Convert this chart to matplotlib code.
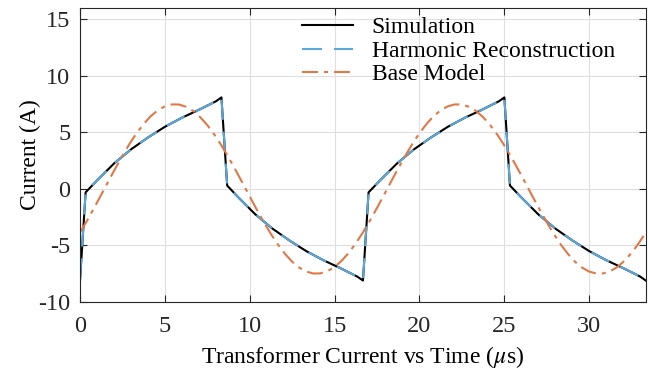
import matplotlib
matplotlib.use("Agg")
import matplotlib.pyplot as plt
import numpy as np

# Simulation (us, A)
sim_t = [0.0, 0.33, 1.0, 1.5, 2.0, 3.0, 4.0, 5.0, 6.0, 7.0, 8.0, 8.33,
         8.67, 9.33, 9.83, 10.33, 11.33, 12.33, 13.33, 14.33, 15.33, 16.33, 16.67,
         17.0, 17.67, 18.17, 18.67, 19.67, 20.67, 21.67, 22.67, 23.67, 24.67, 25.0,
         25.33, 26.0, 26.5, 27.0, 28.0, 29.0, 30.0, 31.0, 32.0, 33.0, 33.33]
sim_i = [-8.1, -0.3, 0.75, 1.5, 2.25, 3.5, 4.55, 5.5, 6.3, 7.0, 7.75, 8.1,
         0.3, -0.75, -1.5, -2.25, -3.5, -4.55, -5.5, -6.3, -7.0, -7.75, -8.1,
         -0.3, 0.75, 1.5, 2.25, 3.5, 4.55, 5.5, 6.3, 7.0, 7.75, 8.1,
         0.3, -0.75, -1.5, -2.25, -3.5, -4.55, -5.5, -6.3, -7.0, -7.75, -8.1]

# Harmonic reconstruction (follows the simulation closely)
harm_t = [0.0, 0.33, 1.0, 1.5, 2.0, 3.0, 4.0, 5.0, 6.0, 7.0, 8.0, 8.33,
          8.67, 9.33, 9.83, 10.33, 11.33, 12.33, 13.33, 14.33, 15.33, 16.33, 16.67,
          17.0, 17.67, 18.17, 18.67, 19.67, 20.67, 21.67, 22.67, 23.67, 24.67, 25.0,
          25.33, 26.0, 26.5, 27.0, 28.0, 29.0, 30.0, 31.0, 32.0, 33.0, 33.33]
harm_i = [-7.9, -0.3, 0.75, 1.5, 2.25, 3.5, 4.55, 5.5, 6.3, 7.0, 7.75, 8.1,
          0.3, -0.75, -1.5, -2.25, -3.5, -4.55, -5.5, -6.3, -7.0, -7.75, -8.1,
          -0.3, 0.75, 1.5, 2.25, 3.5, 4.55, 5.5, 6.3, 7.0, 7.75, 8.1,
          0.3, -0.75, -1.5, -2.25, -3.5, -4.55, -5.5, -6.3, -7.0, -7.75, -8.1]

# Base model, sampled evenly over 0..33.33 us
base_i = [-3.85, -2.80, -1.67, -0.51, 0.67, 1.83, 2.94, 3.99, 4.93, 5.75,
          6.44, 6.96, 7.31, 7.48, 7.47, 7.27, 6.90, 6.35, 5.65, 4.81,
          3.85, 2.80, 1.67, 0.51, -0.67, -1.83, -2.94, -3.99, -4.93, -5.75,
          -6.44, -6.96, -7.31, -7.48, -7.47, -7.27, -6.90, -6.35, -5.65, -4.81,
          -3.85, -2.80, -1.67, -0.51, 0.67, 1.83, 2.94, 3.99, 4.93, 5.75,
          6.44, 6.96, 7.31, 7.48, 7.47, 7.27, 6.90, 6.35, 5.65, 4.81,
          3.85, 2.80, 1.67, 0.51, -0.67, -1.83, -2.94, -3.99, -4.93, -5.75,
          -6.44, -6.96, -7.31, -7.48, -7.47, -7.27, -6.90, -6.35, -5.65, -4.81,
          -3.85]
base_t = np.linspace(0, 33.33, len(base_i))

plt.rcParams['font.family'] = ['Liberation Serif', 'DejaVu Serif']
plt.rcParams['mathtext.fontset'] = 'stix'
plt.rcParams['lines.scale_dashes'] = False
plt.rcParams['axes.unicode_minus'] = False

fig = plt.figure(figsize=(6.49, 3.69), dpi=100)
ax = fig.add_axes([0.1233, 0.1816, 0.8717, 0.7964])

ax.plot(sim_t, sim_i, color='black', lw=1.5, label='Simulation')
ax.plot(harm_t, harm_i, color='#5ba8db', lw=1.5, dashes=(14.4, 8.6),
        label='Harmonic Reconstruction')
ax.plot(base_t, base_i, color='#e07848', lw=1.5, dashes=(11.5, 4.3, 2.9, 4.3),
        label='Base Model')

ax.set_xlim(0, 33.33)
ax.set_ylim(-10, 16)
ax.set_xticks([0, 5, 10, 15, 20, 25, 30])
ax.set_yticks([-10, -5, 0, 5, 10, 15])
ax.grid(True, color='#dfdfdf', lw=0.8)
ax.set_axisbelow(True)
ax.tick_params(direction='in', top=True, right=True, length=5, width=0.8,
               labelsize=17.5, colors='#262626', pad=7)
ax.tick_params(axis='x', pad=10)
for s in ax.spines.values():
    s.set_color('#262626')
    s.set_linewidth(0.8)

ax.set_xlabel(r'Transformer Current vs Time ($\mu$s)', fontsize=17, labelpad=5)
ax.set_ylabel('Current (A)', fontsize=17, labelpad=-2)

ax.legend(loc='upper left', bbox_to_anchor=(0.392, 0.97), frameon=False,
          fontsize=17, handlelength=2.16, handletextpad=0.8, labelspacing=0.08,
          borderaxespad=0.0, borderpad=0.0)

fig.savefig('out.png', dpi=100)
